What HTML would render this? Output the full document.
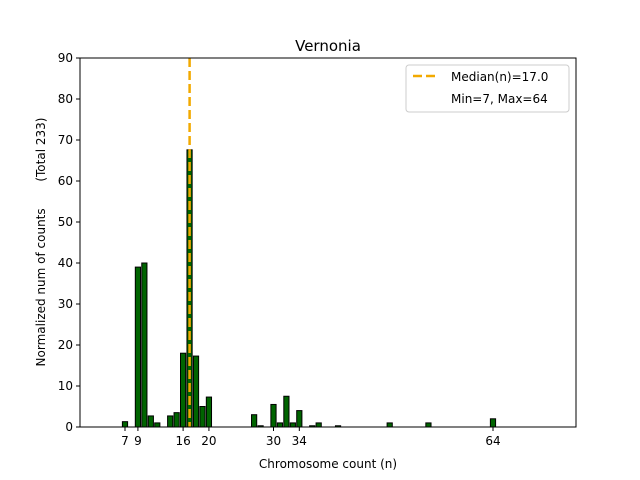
<!DOCTYPE html>
<html><head><style>body{margin:0;background:#fff}svg{display:block;font-family:"DejaVu Sans","Liberation Sans",sans-serif}</style></head>
<body>
<svg id="s" width="640" height="480" xmlns="http://www.w3.org/2000/svg">
<rect width="640" height="480" fill="#fff"/>
<g id="bars"></g>
<line x1="189.6" y1="58" x2="189.6" y2="427" stroke="#f2a900" stroke-width="2.5" stroke-dasharray="9,4"/>
<rect x="80" y="58" width="496" height="369" fill="none" stroke="#000" stroke-width="1"/>
<g id="ticks" font-size="12" fill="#000"></g>
<text x="328" y="51" font-size="15" text-anchor="middle">Vernonia</text>
<text x="328" y="468" font-size="12" text-anchor="middle">Chromosome count (n)</text>
<text transform="translate(45,242) rotate(-90)" font-size="12" text-anchor="middle">Normalized num of counts&#160;&#160;&#160;&#160;&#160;&#160;&#160;(Total 233)</text>
<rect x="406" y="65" width="163" height="47" rx="3" fill="#fff" stroke="#ccc"/>
<line x1="413" y1="76" x2="439" y2="76" stroke="#f2a900" stroke-width="2.5" stroke-dasharray="9,4"/>
<text x="451" y="81" font-size="12">Median(n)=17.0</text>
<text x="451" y="103" font-size="12">Min=7, Max=64</text>
</svg>
<script>
var d=[[7,1.3],[9,39],[10,40],[11,2.7],[12,1],[14,2.7],[15,3.5],[16,18],[17,67.6],[18,17.3],[19,5],[20,7.3],[27,3],[28,0.3],[30,5.5],[31,1],[32,7.5],[33,1],[34,4],[36,0.3],[37,1],[40,0.3],[48,1],[54,1],[64,2]];
var ns="http://www.w3.org/2000/svg",g=document.getElementById('bars'),t=document.getElementById('ticks');
function el(n,a,p){var e=document.createElementNS(ns,n);for(var k in a)e.setAttribute(k,a[k]);p.appendChild(e);return e;}
d.forEach(function(b){var c=125+(b[0]-7)*6.456,h=b[1]*4.1;el('rect',{x:c-2.6,y:427-h,width:5.2,height:h,fill:'#006400',stroke:'#000','stroke-width':1},g);});
[7,9,16,20,30,34,64].forEach(function(n){var c=125+(n-7)*6.456;el('line',{x1:c,y1:427,x2:c,y2:431,stroke:'#000'},t);var x=el('text',{x:c,y:445,'text-anchor':'middle'},t);x.textContent=n;});
for(var v=0;v<=90;v+=10){var y=427-v*4.1;el('line',{x1:76,y1:y,x2:80,y2:y,stroke:'#000'},t);var x=el('text',{x:73,y:y+4,'text-anchor':'end'},t);x.textContent=v;}
</script>
</body></html>
